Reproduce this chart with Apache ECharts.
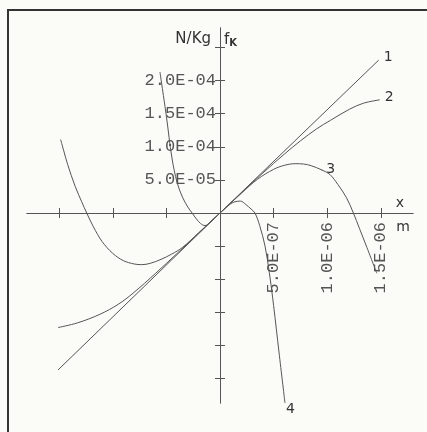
<!DOCTYPE html>
<html><head><meta charset="utf-8">
<script src="https://cdn.jsdelivr.net/npm/echarts@6/dist/echarts.min.js"></script>
<style>html,body{margin:0;padding:0;background:#fbfbf8}#c{width:427px;height:432px}</style>
</head><body><div id="c"></div>
<script>
// ---- data (x in m, f in N/Kg) ----
const curve1X = [-1.51e-6, 0, 1.48e-6];
const curve1Y = [-2.37e-4, 0, 2.31e-4];

const curve2X = [-1.51e-6, -1.33e-6, -1.12e-6, -9.5e-7, -8.1e-7, -6.0e-7, -4.0e-7, -2.0e-7, 0, 2.0e-7, 4.0e-7, 6.0e-7, 7.5e-7, 9.0e-7, 1.03e-6, 1.21e-6, 1.34e-6, 1.49e-6];
const curve2Y = [-1.73e-4, -1.66e-4, -1.53e-4, -1.38e-4, -1.21e-4, -9.1e-5, -6.1e-5, -3.05e-5, 0, 3.05e-5, 6.05e-5, 8.9e-5, 1.09e-4, 1.27e-4, 1.40e-4, 1.57e-4, 1.66e-4, 1.71e-4];

const curve3X = [-1.486e-6, -1.42e-6, -1.35e-6, -1.29e-6, -1.243e-6, -1.18e-6, -1.10e-6, -1.0e-6, -9.0e-7, -8.0e-7, -7.3e-7, -6.5e-7, -5.5e-7, -4.5e-7, -3.5e-7, -2.0e-7, 0, 2.0e-7, 3.5e-7, 5.0e-7, 6.0e-7, 7.0e-7, 7.8e-7, 8.5e-7, 9.5e-7, 1.026e-6, 1.10e-6, 1.18e-6, 1.244e-6, 1.30e-6, 1.37e-6, 1.462e-6];
const curve3Y = [1.11e-4, 7.3e-5, 4.0e-5, 1.7e-5, 0, -2.1e-5, -4.3e-5, -6.1e-5, -7.2e-5, -7.7e-5, -7.8e-5, -7.6e-5, -7.0e-5, -6.2e-5, -5.2e-5, -3.0e-5, 0, 3.0e-5, 5.1e-5, 6.6e-5, 7.2e-5, 7.45e-5, 7.4e-5, 7.15e-5, 6.5e-5, 5.8e-5, 4.3e-5, 2.3e-5, 0, -2.3e-5, -5.2e-5, -9.1e-5];
const curve3LabelIndex = 24;

const curve4X = [-5.6e-7, -5.0e-7, -4.48e-7, -4.0e-7, -3.5e-7, -3.0e-7, -2.6e-7, -2.2e-7, -1.8e-7, -1.4e-7, -9.0e-8, -5.0e-8, 0, 5.0e-8, 1.0e-7, 1.4e-7, 1.9e-7, 2.4e-7, 2.9e-7, 3.26e-7, 3.7e-7, 4.2e-7, 4.6e-7, 5.0e-7, 5.5e-7, 6.06e-7];
const curve4Y = [2.13e-4, 1.46e-4, 8.3e-5, 4.6e-5, 2.4e-5, 9.0e-6, 0, -9.0e-6, -1.6e-5, -1.9e-5, -1.35e-5, -7.5e-6, 0, 7.5e-6, 1.4e-5, 1.7e-5, 1.8e-5, 1.3e-5, 6.0e-6, 0, -1.9e-5, -5.0e-5, -9.0e-5, -1.40e-4, -2.10e-4, -2.87e-4];

const curveNames = ['1', '2', '3', '4'];

const xTickValues = [-1.5e-6, -1.0e-6, -5.0e-7, 5.0e-7, 1.0e-6, 1.5e-6];
const xLabelValues = [5.0e-7, 1.0e-6, 1.5e-6];
const yTickValues = [-2.5e-4, -2.0e-4, -1.5e-4, -1.0e-4, -5.0e-5, 5.0e-5, 1.0e-4, 1.5e-4, 2.0e-4, 2.5e-4];
const yLabelValues = [5.0e-5, 1.0e-4, 1.5e-4, 2.0e-4];

const xRange = [-1.8e-6, 1.8e-6];
const yRange = [-2.87e-4, 2.795e-4];

// ---- chart ----
function sci(v) {
  const s = Number(v).toExponential(1);
  const parts = s.split('e');
  const e = parseInt(parts[1], 10);
  const sign = e < 0 ? '-' : '+';
  return parts[0] + 'E' + sign + String(Math.abs(e)).padStart(2, '0');
}
function pairs(xs, ys) { return xs.map((x, i) => [x, ys[i]]); }

const AX = '#555';
const tickFont = { fontFamily: 'Liberation Mono', fontSize: 17, color: '#555' };
const lineStyle = { color: '#555', width: 1 };

function xAxisDef(pos, showLabel) {
  return {
    type: 'value', min: xRange[0], max: xRange[1], position: pos, offset: 0,
    axisLine: { show: true, onZero: false, lineStyle: { color: AX, width: 1 } },
    axisTick: { show: true, inside: false, length: 5, customValues: xTickValues, lineStyle: { color: AX, width: 1 } },
    axisLabel: { show: showLabel, customValues: xLabelValues, rotate: 90, margin: 9, formatter: sci, ...tickFont },
    splitLine: { show: false }
  };
}
function yAxisDef(pos, showLabel) {
  return {
    type: 'value', min: yRange[0], max: yRange[1], position: pos, offset: 0,
    axisLine: { show: true, onZero: false, lineStyle: { color: AX, width: 1 } },
    axisTick: { show: true, inside: false, length: 5, customValues: yTickValues, lineStyle: { color: AX, width: 1 } },
    axisLabel: { show: showLabel, customValues: yLabelValues, margin: 4, formatter: sci, ...tickFont },
    splitLine: { show: false }
  };
}

const labelFont = { fontFamily: 'DejaVu Sans', fontSize: 14, color: '#333' };

const d3 = pairs(curve3X, curve3Y).map((p, i) => i === curve3LabelIndex ? {
  value: p, symbol: 'circle', symbolSize: 1,
  itemStyle: { color: '#555' },
  label: { show: true, position: 'right', distance: 4, offset: [0, -1], formatter: curveNames[2], ...labelFont }
} : { value: p });

const option = {
  backgroundColor: '#fbfbf8',
  animation: false,
  grid: { left: 27, right: 14, top: 28, bottom: 29, containLabel: false, outerBoundsMode: 'none' },
  xAxis: [xAxisDef('bottom', true), xAxisDef('top', false)],
  yAxis: [yAxisDef('left', true), yAxisDef('right', false)],
  graphic: [
    { type: 'rect', shape: { x: 8, y: 10, width: 600, height: 600 }, style: { fill: 'none', stroke: '#333', lineWidth: 2 }, silent: true },
    { type: 'text', x: 211, y: 39, style: { text: 'N/Kg', align: 'right', verticalAlign: 'middle', font: '15px "DejaVu Sans"', fill: '#333' } },
    { type: 'text', x: 224, y: 48, style: { text: '{f|f}{k|K}', align: 'left', verticalAlign: 'bottom',
        rich: { f: { font: '15px "DejaVu Sans"', fill: '#333', verticalAlign: 'bottom' }, k: { font: 'bold 10px "DejaVu Sans"', fill: '#333', verticalAlign: 'bottom' } } } },
    { type: 'text', x: 400, y: 203, style: { text: 'x', align: 'center', verticalAlign: 'middle', font: '14px "DejaVu Sans"', fill: '#333' } },
    { type: 'text', x: 403, y: 227, style: { text: 'm', align: 'center', verticalAlign: 'middle', font: '14px "DejaVu Sans"', fill: '#333' } }
  ],
  series: [
    { name: curveNames[0], type: 'line', data: pairs(curve1X, curve1Y), showSymbol: false, symbol: 'none', lineStyle,
      endLabel: { show: true, formatter: curveNames[0], distance: 5, offset: [0, -3], ...labelFont } },
    { name: curveNames[1], type: 'line', data: pairs(curve2X, curve2Y), showSymbol: false, symbol: 'none', smooth: 0.35, lineStyle,
      endLabel: { show: true, formatter: curveNames[1], distance: 5, offset: [0, -2], ...labelFont } },
    { name: curveNames[2], type: 'line', data: d3, showSymbol: true, symbol: 'none', smooth: 0.35, lineStyle },
    { name: curveNames[3], type: 'line', data: pairs(curve4X, curve4Y), showSymbol: false, symbol: 'none', smooth: 0.35, lineStyle,
      endLabel: { show: true, formatter: curveNames[3], distance: 1, offset: [0, 6], ...labelFont } }
  ]
};
const chart = echarts.init(document.getElementById('c'));
chart.setOption(option);

// place the axes on the zero lines, using the library's own scales
const zx = chart.convertToPixel({ xAxisIndex: 0 }, 0);
const zy = chart.convertToPixel({ yAxisIndex: 0 }, 0);
const gl = chart.convertToPixel({ xAxisIndex: 0 }, xRange[0]);
const gr = chart.convertToPixel({ xAxisIndex: 0 }, xRange[1]);
const gt = chart.convertToPixel({ yAxisIndex: 0 }, yRange[1]);
const gb = chart.convertToPixel({ yAxisIndex: 0 }, yRange[0]);
chart.setOption({
  xAxis: [{ offset: -(gb - zy) }, { offset: -(zy - gt) }],
  yAxis: [{ offset: -(zx - gl) }, { offset: -(gr - zx) }]
});
</script></body></html>
